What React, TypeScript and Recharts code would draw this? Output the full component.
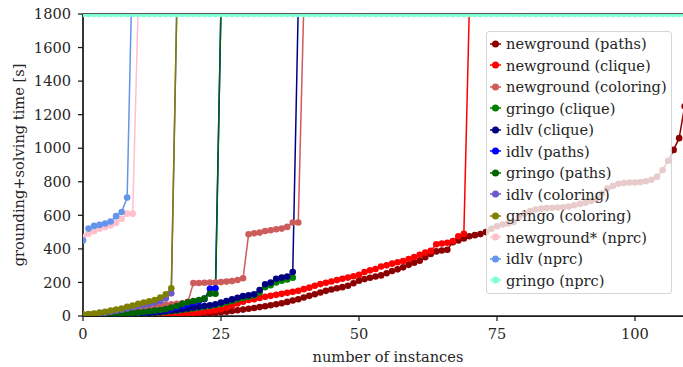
import { LineChart, Line, XAxis, YAxis, Legend, ReferenceLine, Label } from 'recharts'

const FONT = 'DejaVu Serif, serif'
const INK = '#262626'
const FS = 14.6

const xTicks = [0, 25, 50, 75, 100]
const yTicks = [0, 200, 400, 600, 800, 1000, 1200, 1400, 1600, 1800]

// sorted runtimes per solver/encoding, one value per instance (timeouts above the 1800 cap)
const newgroundPaths = [
  1, 1, 1, 1, 2, 2, 2, 3, 3, 3,
  4, 4, 5, 5, 6, 7, 8, 9, 10, 11,
  12, 14, 16, 18, 20, 23, 26, 30, 34, 38,
  43, 48, 53, 58, 64, 70, 76, 84, 92, 100,
  110, 120, 130, 140, 150, 158, 165, 172, 180, 195,
  210, 220, 228, 235, 242, 255, 268, 278, 290, 305,
  318, 330, 350, 370, 385, 390, 395, 440, 450, 462,
  475, 482, 488, 500, 520, 535, 545, 552, 560, 590,
  610, 625, 635, 640, 643, 645, 647, 648, 652, 660,
  668, 675, 685, 695, 730, 760, 775, 788, 793, 795,
  796, 798, 803, 812, 830, 870, 925, 990, 1060, 1250,
]
const newgroundClique = [
  1, 1, 1, 2, 2, 2, 3, 3, 4, 4,
  5, 6, 7, 8, 9, 10, 12, 13, 15, 17,
  19, 21, 25, 30, 35, 40, 50, 62, 75, 85,
  95, 100, 108, 114, 120, 126, 132, 138, 144, 150,
  160, 169, 180, 190, 198, 206, 214, 222, 229, 237,
  245, 262, 272, 280, 295, 302, 312, 320, 328, 340,
  352, 365, 378, 388, 428, 432, 437, 447, 475, 490,
  1850,
]
const newgroundColoring = [
  3, 5, 8, 10, 14, 18, 22, 27, 32, 38,
  44, 50, 55, 60, 64, 67, 70, 72, 75, 85,
  196, 197, 198, 199, 200, 202, 205, 208, 215, 225,
  487, 493, 497, 507, 511, 517, 521, 531, 557, 557,
  1850,
]
const gringoClique = [
  1, 2, 2, 3, 4, 5, 6, 7, 8, 10,
  12, 14, 16, 18, 21, 24, 28, 32, 36, 40,
  45, 50, 55, 60, 65, 72, 80, 90, 100, 108,
  115, 122, 140, 172, 183, 200, 210, 218, 228,
]
const idlvClique = [
  1, 2, 3, 4, 5, 6, 7, 9, 10, 12,
  14, 16, 18, 21, 24, 28, 32, 36, 40, 45,
  50, 55, 60, 64, 70, 80, 89, 99, 109, 119,
  123, 129, 155, 189, 199, 222, 229, 235, 262, 1850,
]
const idlvPaths = [
  1, 2, 3, 4, 5, 6, 8, 10, 12, 15,
  18, 21, 25, 29, 33, 38, 44, 52, 60, 70,
  80, 88, 100, 162, 165, 1850,
]
const gringoPaths = [
  1, 2, 3, 4, 5, 7, 9, 11, 14, 17,
  20, 24, 28, 32, 36, 42, 50, 60, 72, 82,
  89, 95, 105, 133, 133, 1850,
]
const idlvColoring = [6, 8, 11, 15, 20, 26, 31, 37, 44, 52, 60, 66, 72, 80, 90, 105, 135, 1850]
const gringoColoring = [10, 12, 15, 20, 25, 32, 38, 45, 55, 62, 72, 80, 88, 95, 110, 130, 165, 1850]
const newgroundStarNprc = [470, 490, 505, 520, 530, 540, 555, 580, 610, 610, 1850]
const idlvNprc = [450, 521, 537, 543, 551, 563, 595, 620, 706, 2200]
const gringoNprc = [
  1800, 1800, 1800, 1800, 1800, 1800, 1800, 1800, 1800, 1800,
  1800, 1800, 1800, 1800, 1800, 1800, 1800, 1800, 1800, 1800,
  1800, 1800, 1800, 1800, 1800, 1800, 1800, 1800, 1800, 1800,
  1800, 1800, 1800, 1800, 1800, 1800, 1800, 1800, 1800, 1800,
  1800, 1800, 1800, 1800, 1800, 1800, 1800, 1800, 1800, 1800,
  1800, 1800, 1800, 1800, 1800, 1800, 1800, 1800, 1800, 1800,
  1800, 1800, 1800, 1800, 1800, 1800, 1800, 1800, 1800, 1800,
  1800, 1800, 1800, 1800, 1800, 1800, 1800, 1800, 1800, 1800,
  1800, 1800, 1800, 1800, 1800, 1800, 1800, 1800, 1800, 1800,
  1800, 1800, 1800, 1800, 1800, 1800, 1800, 1800, 1800, 1800,
  1800, 1800, 1800, 1800, 1800, 1800, 1800, 1800, 1800, 1800,
]

const series = [
  { name: 'newground (paths)', color: '#8B0000', values: newgroundPaths },
  { name: 'newground (clique)', color: '#FF0000', values: newgroundClique },
  { name: 'newground (coloring)', color: '#CD5C5C', values: newgroundColoring },
  { name: 'gringo (clique)', color: '#008000', values: gringoClique },
  { name: 'idlv (clique)', color: '#000080', values: idlvClique },
  { name: 'idlv (paths)', color: '#0000FF', values: idlvPaths },
  { name: 'gringo (paths)', color: '#006400', values: gringoPaths },
  { name: 'idlv (coloring)', color: '#6A5ACD', values: idlvColoring },
  { name: 'gringo (coloring)', color: '#808000', values: gringoColoring },
  { name: 'newground* (nprc)', color: '#FFC0CB', values: newgroundStarNprc },
  { name: 'idlv (nprc)', color: '#6495ED', values: idlvNprc },
  { name: 'gringo (nprc)', color: '#7FFFD4', values: gringoNprc },
]

const toPoints = (values: number[]) => values.map((t, i) => ({ n: i, t }))

function LegendBox() {
  return (
    <div
      style={{
        background: 'rgba(255,255,255,0.8)',
        border: '1px solid rgba(204,204,204,0.8)',
        borderRadius: 4,
        padding: '1px 0 2px 3px',
        fontFamily: FONT,
        fontSize: FS,
        color: INK,
        boxSizing: 'border-box',
      }}
    >
      {series.map(s => (
        <div key={s.name} style={{ display: 'flex', alignItems: 'center', height: 21.5, whiteSpace: 'nowrap' }}>
          <svg width={16} height={10} style={{ flex: 'none' }}>
            <line x1={0} y1={5} x2={11} y2={5} stroke={s.color} strokeWidth={1.5} />
            <circle cx={5.5} cy={5} r={3.5} fill={s.color} />
          </svg>
          <span style={{ fontFamily: FONT }}>{s.name}</span>
        </div>
      ))}
    </div>
  )
}

export default function App() {
  const tickStyle = { fill: INK, fontSize: FS, fontFamily: FONT }
  return (
    <div style={{ position: 'absolute', left: 0, top: 0, background: '#fff', fontFamily: FONT }}>
      <LineChart width={683} height={367} margin={{ top: 14, right: 0, left: 8, bottom: 21 }}>
        <XAxis
          type="number"
          dataKey="n"
          domain={[0, 108.7]}
          ticks={xTicks}
          allowDataOverflow
          height={30}
          tickSize={5}
          tickMargin={8}
          tick={tickStyle}
          axisLine={{ stroke: '#1a1a1a', strokeWidth: 1.75 }}
          tickLine={{ stroke: '#1a1a1a', strokeWidth: 1.25 }}
        >
          <Label
            content={({ viewBox }: any) => (
              <text
                x={viewBox.x + viewBox.width / 2 + 5}
                y={362}
                textAnchor="middle"
                fill={INK}
                fontSize={FS}
                fontFamily={FONT}
              >
                number of instances
              </text>
            )}
          />
        </XAxis>
        <YAxis
          type="number"
          domain={[0, 1800]}
          ticks={yTicks}
          interval={0}
          allowDataOverflow
          width={75}
          tickSize={5}
          tickMargin={7}
          tick={tickStyle}
          axisLine={{ stroke: '#1a1a1a', strokeWidth: 1.75 }}
          tickLine={{ stroke: '#1a1a1a', strokeWidth: 1.25 }}
        >
          <Label
            content={({ viewBox }: any) => {
              const cx = 18
              const cy = viewBox.y + viewBox.height / 2
              return (
                <text
                  x={cx}
                  y={cy}
                  transform={`rotate(-90 ${cx} ${cy})`}
                  textAnchor="middle"
                  dominantBaseline="central"
                  fill={INK}
                  fontSize={FS}
                  fontFamily={FONT}
                >
                  grounding+solving time [s]
                </text>
              )
            }}
          />
        </YAxis>
        {series.map(s => (
          <Line
            key={s.name}
            name={s.name}
            data={toPoints(s.values)}
            dataKey="t"
            type="linear"
            stroke={s.color}
            strokeWidth={1.5}
            dot={{ r: 3.3, fill: s.color, stroke: s.color, strokeWidth: 0 }}
            activeDot={false}
            isAnimationActive={false}
          />
        ))}
        <ReferenceLine y={1800} stroke="#1a1a1a" strokeWidth={1.75} />
        <Legend
          layout="vertical"
          align="center"
          verticalAlign="middle"
          wrapperStyle={{ left: 486, top: 31, width: 186 }}
          content={() => <LegendBox />}
        />
      </LineChart>
    </div>
  )
}
